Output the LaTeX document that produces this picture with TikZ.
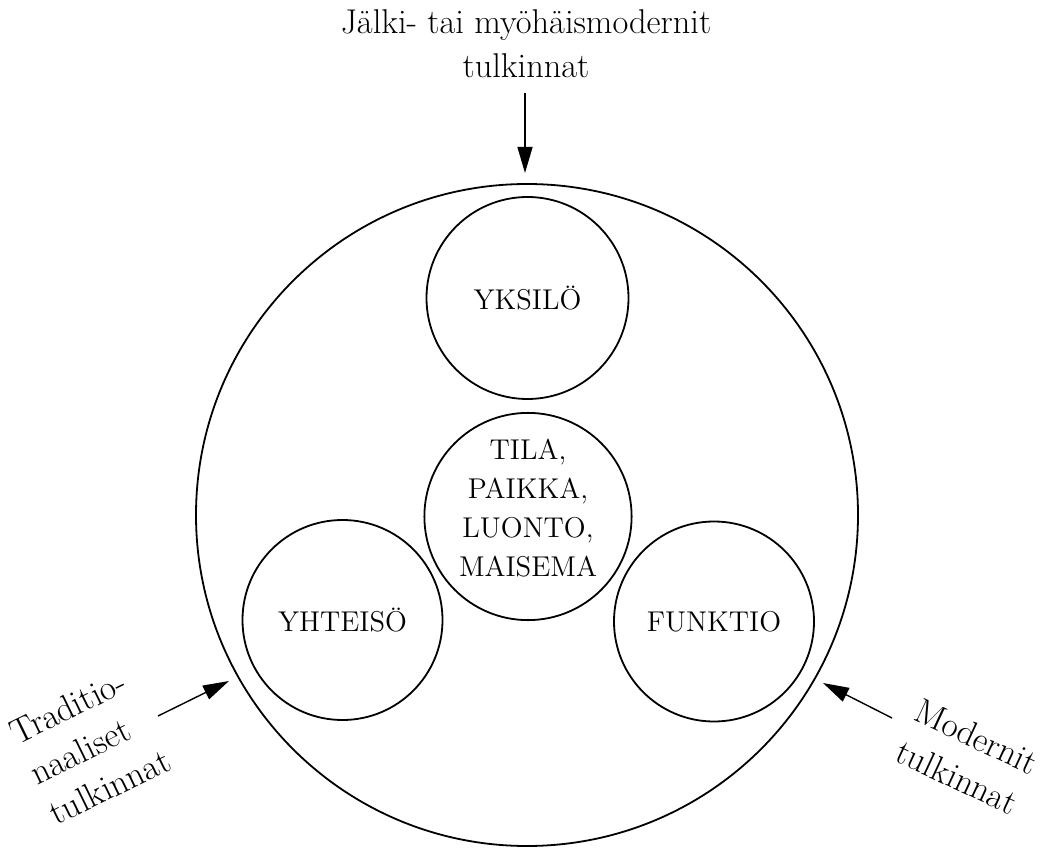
\documentclass[tikz,border=0pt]{standalone}
\usetikzlibrary{arrows.meta}
\begin{document}
\begin{tikzpicture}[x=0.5pt,y=-0.5pt,
  ring/.style={draw,circle,inner sep=0pt,line width=0.9pt},
  small/.style={ring,minimum size=101pt,font=\fontsize{14.3}{19.5}\selectfont,align=center},
  lbl/.style={inner sep=0pt,font=\fontsize{17.2}{22}\selectfont},
  rlbl/.style={inner sep=0pt,font=\fontsize{17.6}{22.4}\selectfont},
  arr/.style={line width=0.7pt,-{Triangle[length=13pt,width=7.5pt]}}]
\useasboundingbox (0,0) rectangle (1045,850);
% outer circle
\node[ring,minimum size=331pt] (outer) at (527,515) {};
% inner circles
\node[small] (yksilo) at (527.5,298) {YKSILÖ};
\node[small] (tila) at (528,516.5) {TILA,\\PAIKKA,\\LUONTO,\\MAISEMA\rule[-9pt]{0pt}{9pt}};
\node[small,minimum size=100pt] (yhteiso) at (342.5,620) {YHTEISÖ};
\node[small,minimum size=100pt] (funktio) at (714,621.5) {FUNKTIO};
% labels
\node[lbl,align=center] (top) at (526,44) {Jälki- tai myöhäismodernit\\tulkinnat};
\node[rlbl,align=left,rotate=26] (trad) at (90,746) {Traditio-\\naaliset\\tulkinnat};
\node[rlbl,align=left,rotate=-25] (mod) at (967,757) {Modernit\\tulkinnat};
% arrow end points
\coordinate (topA) at (525,93);
\coordinate (topB) at (525,173);
\coordinate (tradA) at (158,716);
\coordinate (tradB) at (229,681);
\coordinate (modA) at (892,718);
\coordinate (modB) at (823,683);
\draw[arr] (topA) -- (topB);
\draw[arr] (tradA) -- (tradB);
\draw[arr] (modA) -- (modB);
\end{tikzpicture}
\end{document}
